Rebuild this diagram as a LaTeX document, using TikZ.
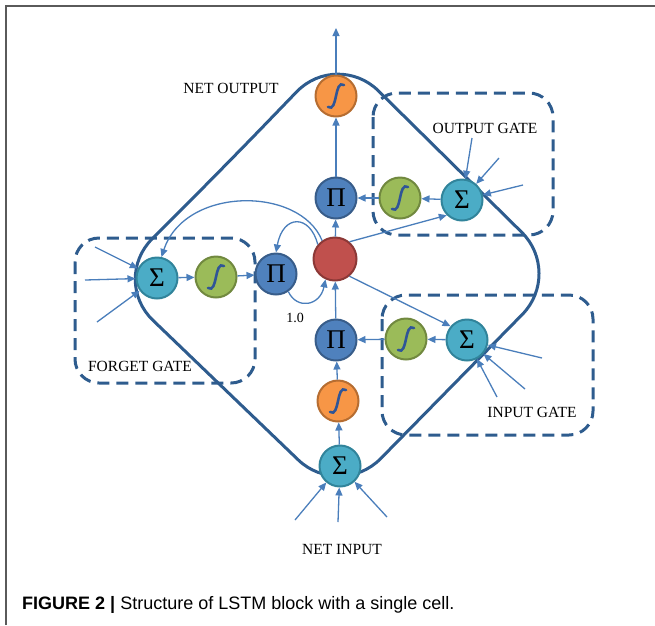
\documentclass[tikz,border=0pt]{standalone}
\usepackage{fontspec}
\setmainfont{Liberation Serif}
\newfontfamily\capfont{Liberation Sans}
\usetikzlibrary{arrows.meta}

\definecolor{sigfill}{HTML}{4BACC6}
\definecolor{sigedge}{HTML}{31849B}
\definecolor{grnfill}{HTML}{9BBB59}
\definecolor{grnedge}{HTML}{71893F}
\definecolor{orgfill}{HTML}{F79646}
\definecolor{orgedge}{HTML}{B66D31}
\definecolor{pifill}{HTML}{4F81BD}
\definecolor{piedge}{HTML}{385D8A}
\definecolor{redfill}{HTML}{C0504D}
\definecolor{rededge}{HTML}{8C3836}
\definecolor{wire}{HTML}{4A7EBB}
\definecolor{wallblue}{HTML}{2E5C8E}
\definecolor{scurvecol}{HTML}{2F5597}
\definecolor{framegray}{HTML}{5A5A5A}

\tikzset{
  unit/.style={circle, minimum size=41pt, inner sep=0pt, line width=2pt},
  sumnode/.style={unit, fill=sigfill, draw=sigedge, font=\fontsize{27}{27}\selectfont},
  prodnode/.style={unit, fill=pifill, draw=piedge, font=\fontsize{27}{27}\selectfont},
  squashg/.style={unit, fill=grnfill, draw=grnedge},
  squasho/.style={unit, fill=orgfill, draw=orgedge},
  cellnode/.style={unit, minimum size=43pt, fill=redfill, draw=rededge},
  arr/.style={draw=wire, line width=1.3pt, -{Triangle[length=8pt,width=7pt]}},
  cellwall/.style={draw=wallblue, line width=3pt},
  gatebox/.style={draw=wallblue, line width=3pt, rounded corners=24pt, dash pattern=on 12pt off 7pt},
  scurve/.style={draw=scurvecol, line width=2.6pt, line cap=round},
  lbl/.style={font=\fontsize{15.5}{16}\selectfont, inner sep=0pt},
}

% sigmoid glyph drawn inside a squashing unit
\newcommand\sigglyph[1]{%
  \draw[scurve] ([shift={(-8,11)}]#1.center)
    .. controls ([shift={(2,17)}]#1.center) and ([shift={(-2,-17)}]#1.center)
    .. ([shift={(8,-11)}]#1.center);}

\begin{document}
\begin{tikzpicture}[x=1pt, y=-1pt]
\useasboundingbox (0,0) rectangle (655,625);

% page frame
\draw[framegray, line width=1.6pt] (6,625) -- (6,6) -- (655,6);

% memory block outline
\draw[cellwall, rounded corners=58pt]
  (225,166) -- (337,50) -- (563,273) -- (340,500) -- (111,280) -- cycle;

% gate regions
\draw[gatebox] (75,238) rectangle (255,383);
\draw[gatebox] (373,93) rectangle (553,235);
\draw[gatebox] (382,295) rectangle (593,435);

% units
\node[squasho] (oOut) at (336,96) {};
\node[prodnode] (pO) at (336,198) {Π};
\node[cellnode] (cell) at (335,259) {};
\node[prodnode] (pF) at (276,274) {Π};
\node[prodnode] (pI) at (336,340) {Π};
\node[squasho] (oIn) at (338,401) {};
\node[sumnode] (sigN) at (340,466) {Σ};
\node[sumnode] (sigF) at (157,278) {Σ};
\node[squashg] (gF) at (216,277) {};
\node[squashg] (gO) at (400,198) {};
\node[sumnode] (sigO) at (462,200) {Σ};
\node[squashg] (gI) at (406,339) {};
\node[sumnode] (sigI) at (467,340) {Σ};

\sigglyph{oOut}
\sigglyph{oIn}
\sigglyph{gF}
\sigglyph{gO}
\sigglyph{gI}

% labels
\node[lbl] (tNetOut) at (231,88) {NET OUTPUT};
\node[lbl] (tOutGate) at (485,128) {OUTPUT GATE};
\node[lbl] (tForget) at (140,366) {FORGET GATE};
\node[lbl] (tInGate) at (532,412) {INPUT GATE};
\node[lbl] (tNetIn) at (342,549) {NET INPUT};
\node[lbl, font=\fontsize{14}{14}\selectfont] (tOne) at (295,318) {1.0};

% free ends of the external inputs
\coordinate (outTip) at (336,28);
\coordinate (fa) at (95,247);
\coordinate (fb) at (85,280);
\coordinate (fc) at (97,322);
\coordinate (oa) at (472,138);
\coordinate (ob) at (499,158);
\coordinate (oc) at (523,185);
\coordinate (ia) at (542,358);
\coordinate (ib) at (525,389);
\coordinate (ic) at (497,397);
\coordinate (na) at (295,520);
\coordinate (nb) at (338,522);
\coordinate (nc) at (387,517);

% output path
\draw[arr] (oOut) -- (outTip);
\draw[arr] (pO) -- (oOut);
\draw[arr] (cell) -- (pO);
\draw[arr] (gO) -- (pO);
\draw[arr] (sigO) -- (gO);
\draw[arr] (cell.50) -- (sigO.225);
\draw[arr] (oa) -- (sigO);
\draw[arr] (ob) -- (sigO);
\draw[arr] (oc) -- (sigO);

% forget path
\draw[arr] (fa) -- (sigF);
\draw[arr] (fb) -- (sigF);
\draw[arr] (fc) -- (sigF);
\draw[arr] (sigF) -- (gF);
\draw[arr] (gF) -- (pF);
\draw[arr] (cell.125) .. controls (300,186) and (185,186) .. (sigF.78);
\draw[arr] (cell.140) .. controls (310,214) and (283,214) .. (pF.north);
\draw[arr] (pF.-55) .. controls (297,310) and (320,306) .. (cell.245);

% input path
\draw[arr] (cell.-50) -- (sigI.140);
\draw[arr] (ia) -- (sigI);
\draw[arr] (ib) -- (sigI);
\draw[arr] (ic) -- (sigI);
\draw[arr] (sigI) -- (gI);
\draw[arr] (gI) -- (pI);
\draw[arr] (pI) -- (cell);
\draw[arr] (oIn) -- (pI);
\draw[arr] (sigN) -- (oIn);
\draw[arr] (na) -- (sigN);
\draw[arr] (nb) -- (sigN);
\draw[arr] (nc) -- (sigN);

% caption
\node[anchor=base west, inner sep=0pt, font=\capfont\fontsize{18}{18}\selectfont]
  (cap) at (22,609) {\textbf{FIGURE 2 |} Structure of LSTM block with a single cell.};
\end{tikzpicture}
\end{document}
